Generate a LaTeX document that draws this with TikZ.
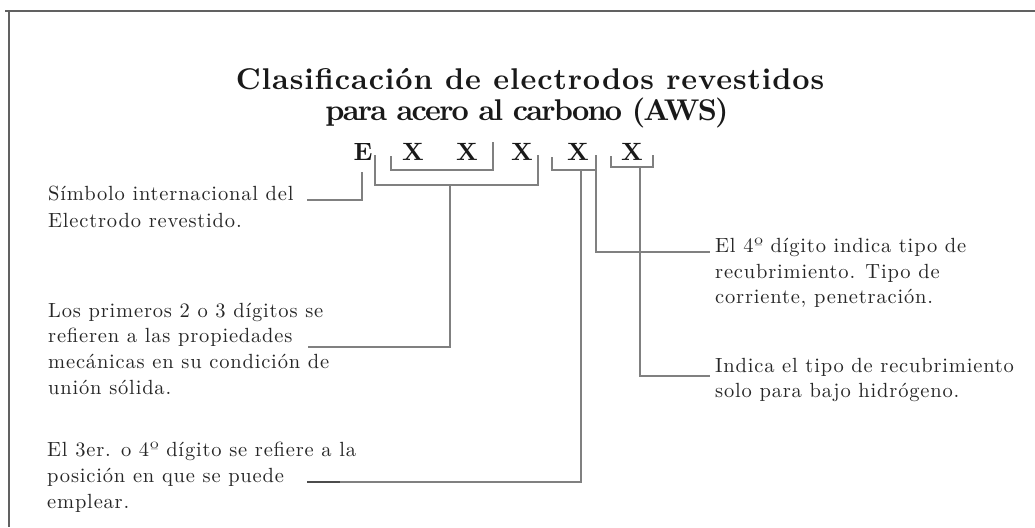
\documentclass[tikz,border=0pt]{standalone}
\usepackage{fontspec}
\newfontfamily\bodyfont{lmroman10-regular.otf}[LetterSpace=4]
\newfontfamily\ttlA{lmroman10-bold.otf}[LetterSpace=3]
\newfontfamily\ttlB{lmroman10-bold.otf}[LetterSpace=-6]
\newfontfamily\codefont{lmroman10-bold.otf}
\begin{document}
\begin{tikzpicture}[x=1pt,y=-1pt,
  frame/.style={draw=black!62,line width=2pt},
  conn/.style={draw=black!50,line width=1.2pt},
  ttl/.style={anchor=base,inner sep=0,text=black!90},
  code/.style={anchor=base,inner sep=0,text=black!90,font=\codefont\fontsize{25}{30}\selectfont},
  lbl/.style={anchor=base west,inner sep=0,text=black!85,font=\bodyfont\fontsize{20.5}{24}\selectfont}]
\useasboundingbox (0,0) rectangle (1035,527);
% frame
\draw[frame] (5,11.5) -- (1035,11.5);
\draw[frame] (9,11.5) -- (9,527);
% title
\node[ttl,font=\ttlA\fontsize{30}{36}\selectfont] (t1) at (530,89) {Clasificación de electrodos revestidos};
\node[ttl,font=\ttlB\fontsize{30}{36}\selectfont] (t2) at (527,120) {para acero al carbono (AWS)};
% code letters
\node[code] (E)  at (363,160) {E};
\node[code] (X1) at (413,160) {X};
\node[code] (X2) at (467,160) {X};
\node[code] (X3) at (522,160) {X};
\node[code] (X4) at (578,160) {X};
\node[code] (X5) at (632,160) {X};
% left texts
\node[lbl] (s1) at (48,200) {Símbolo internacional del};
\node[lbl] (s2) at (48,227) {Electrodo revestido.};
\node[lbl] (p1) at (48,317) {Los primeros 2 o 3 dígitos se};
\node[lbl] (p2) at (48,342) {refieren a las propiedades};
\node[lbl] (p3) at (48,368) {mecánicas en su condición de};
\node[lbl] (p4) at (48,394) {unión sólida.};
\node[lbl] (q1) at (47,456) {El 3er. o 4º dígito se refiere a la};
\node[lbl] (q2) at (47,482) {posición en que se puede};
\node[lbl] (q3) at (47,508) {emplear.};
% right texts
\node[lbl] (r1) at (715,252) {El 4º dígito indica tipo de};
\node[lbl] (r2) at (715,278) {recubrimiento. Tipo de};
\node[lbl] (r3) at (715,303) {corriente, penetración.};
\node[lbl] (h1) at (715,372) {Indica el tipo de recubrimiento};
\node[lbl] (h2) at (715,397) {solo para bajo hidrógeno.};
% coordinates
\coordinate (eTop) at (362,172);
\coordinate (eEnd) at (307,200);
\coordinate (bigL) at (375,155);
\coordinate (bigR) at (538,155);
\coordinate (bigD) at (450,185);
\coordinate (pEnd) at (308,347);
\coordinate (inL) at (391,156);
\coordinate (inR) at (493,142);
\coordinate (x4L) at (552,157);
\coordinate (x4R) at (596,155);
\coordinate (x4D) at (581,170);
\coordinate (qEnd) at (307,482);
\coordinate (rEnd) at (710,252);
\coordinate (x5L) at (611,156);
\coordinate (x5R) at (653,155);
\coordinate (x5D) at (640,167);
\coordinate (hEnd) at (710,376);
% brackets
\draw[conn] (bigL) -- (bigL |- bigD) -- (bigR |- bigD) -- (bigR);
\draw[conn] (inL) -- (391,170) -- (493,170) -- (inR);
\draw[conn] (x4L) -- (x4L |- x4D) -- (x4R |- x4D) -- (x4R);
\draw[conn] (x5L) -- (x5L |- x5D) -- (x5R |- x5D) -- (x5R);
% connectors
\draw[conn] (eTop) -- (eTop |- eEnd) -- (eEnd);
\draw[conn] (bigD) -- (bigD |- pEnd) -- (pEnd);
\draw[conn] (x4D) -- (x4D |- qEnd) -- (qEnd);
\draw[conn,line width=2pt,draw=black!70] (qEnd) -- (340,482);
\draw[conn] (x4R |- x4D) -- (x4R |- rEnd) -- (rEnd);
\draw[conn] (x5D) -- (x5D |- hEnd) -- (hEnd);
\end{tikzpicture}
\end{document}
